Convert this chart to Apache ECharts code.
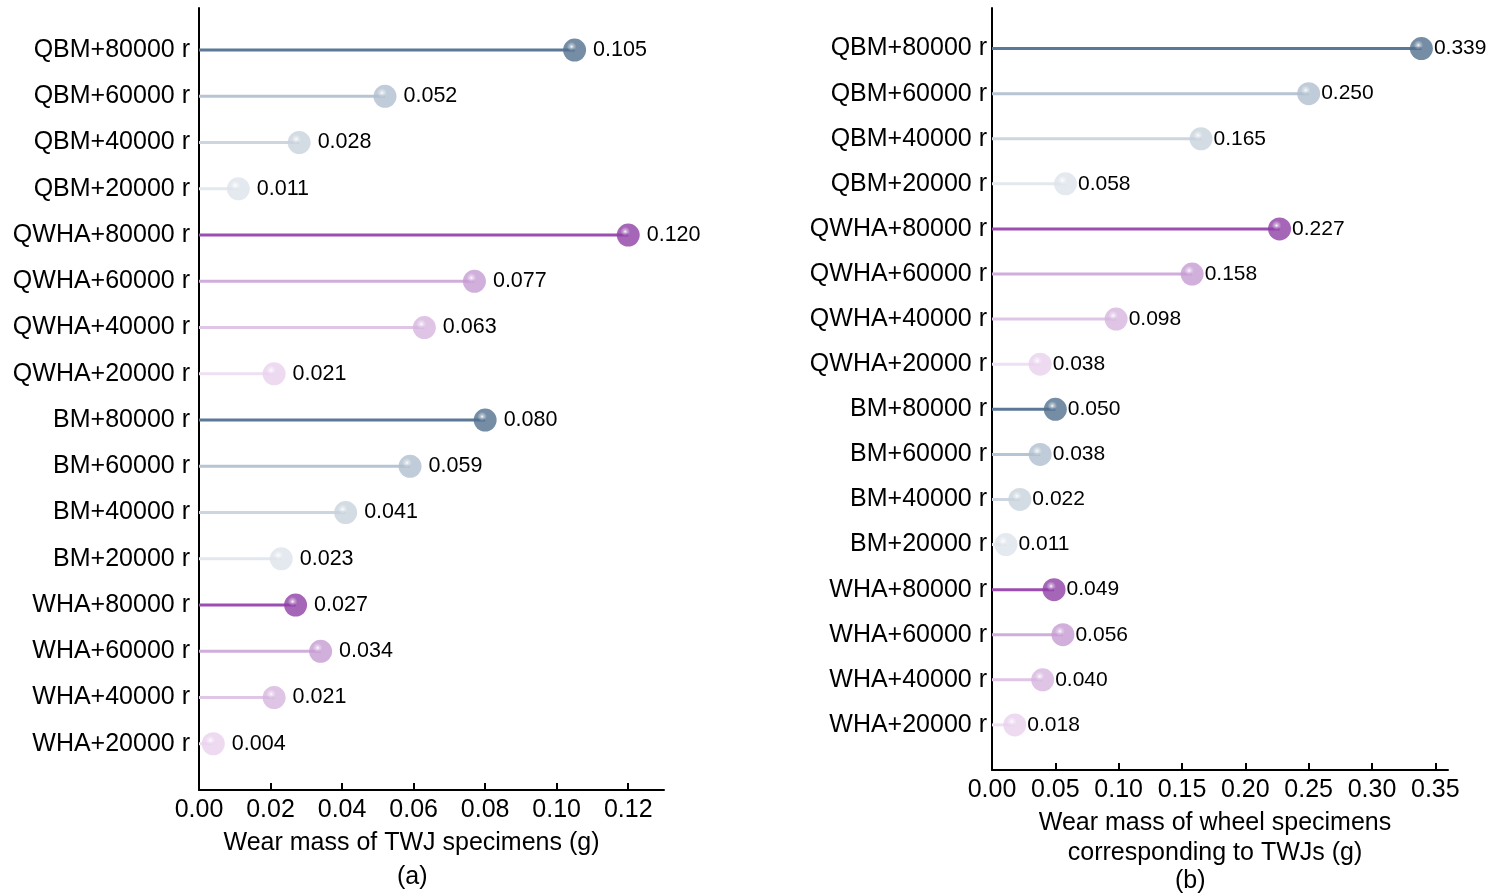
<!DOCTYPE html>
<html>
<head>
<meta charset="utf-8">
<script src="https://cdn.jsdelivr.net/npm/echarts@6/dist/echarts.min.js"></script>
<style>
html,body{margin:0;padding:0;background:#fff;}
#c{width:1489px;height:895px;}
</style>
</head>
<body>
<div id="c"></div>
<script>
const categories = ['QBM+80000 r','QBM+60000 r','QBM+40000 r','QBM+20000 r',
  'QWHA+80000 r','QWHA+60000 r','QWHA+40000 r','QWHA+20000 r',
  'BM+80000 r','BM+60000 r','BM+40000 r','BM+20000 r',
  'WHA+80000 r','WHA+60000 r','WHA+40000 r','WHA+20000 r'];
const twjMass = [0.105,0.052,0.028,0.011,0.120,0.077,0.063,0.021,0.080,0.059,0.041,0.023,0.027,0.034,0.021,0.004];
const wheelMass = [0.339,0.250,0.165,0.058,0.227,0.158,0.098,0.038,0.050,0.038,0.022,0.011,0.049,0.056,0.040,0.018];
const twjTicks = [0,0.02,0.04,0.06,0.08,0.10,0.12];
const wheelTicks = [0,0.05,0.10,0.15,0.20,0.25,0.30,0.35];

const blueBall = ['#52708e','#b0bfcf','#c8d2dd','#dee4eb'];
const purpleBall = ['#8f40a6','#c69bd3','#d6b5df','#e9d1ee'];
const blueLine = ['#5b7897','#b7c4d3','#cdd6e0','#e3e8ee'];
const purpleLine = ['#9c4db1','#d0aedb','#dfc5e6','#efdff2'];

function ballColor(i){ const g = Math.floor(i/4), l = i%4; return (g===1||g===3) ? purpleBall[l] : blueBall[l]; }
function lineColor(i){ const g = Math.floor(i/4), l = i%4; return (g===1||g===3) ? purpleLine[l] : blueLine[l]; }
function grad(c){
  return new echarts.graphic.RadialGradient(0.37, 0.35, 0.65, [
    {offset:0, color:'#ffffff'},
    {offset:0.1, color:echarts.color.lerp(0.5, ['#ffffff', c])},
    {offset:0.32, color:c},
    {offset:1, color:c}
  ]);
}
function stems(vals){ return vals.map((v,i)=>[v,i]); }
function balls(vals){ return vals.map((v,i)=>({value:[v,i], itemStyle:{color:grad(ballColor(i))}})); }
function renderStem(params, api){
  const v = api.value(0), i = api.value(1);
  const p0 = api.coord([0, i]), p1 = api.coord([v, i]);
  return {type:'line', shape:{x1:p0[0], y1:p0[1], x2:p1[0], y2:p1[1]},
    style:{stroke:lineColor(i), lineWidth:3}};
}
const FONT = '"Liberation Sans", Arial, sans-serif';
function yAx(idx, min, margin){
  return {gridIndex:idx, type:'value', inverse:true, min:min, max:16,
    axisLine:{show:true, onZero:false, lineStyle:{color:'#000', width:2}},
    axisTick:{show:false}, splitLine:{show:false},
    axisLabel:{customValues:categories.map((c,i)=>i), formatter:v=>categories[Math.round(v)],
      fontSize:25, color:'#000', fontFamily:FONT, margin:margin}};
}
function xAx(idx, max, ticks, name, gap, pad){
  return {gridIndex:idx, type:'value', min:0, max:max,
    axisLine:{show:true, onZero:false, lineStyle:{color:'#000', width:2}},
    axisTick:{show:true, inside:true, length:7, customValues:ticks, lineStyle:{color:'#000', width:2}},
    splitLine:{show:false},
    axisLabel:{customValues:ticks, formatter:v=>v.toFixed(2), fontSize:25, color:'#000', fontFamily:FONT, margin:8},
    name:name, nameLocation:'middle', nameGap:gap,
    nameTextStyle:{fontSize:25, color:'#000', fontFamily:FONT, lineHeight:30, padding:pad}};
}
const chart = echarts.init(document.getElementById('c'));
chart.setOption({
  backgroundColor:'#fff',
  animation:false,
  grid:[
    {left:199, top:8, width:465, height:782},
    {left:992, top:8, width:456, height:762}
  ],
  xAxis:[
    xAx(0, 0.13, twjTicks, 'Wear mass of TWJ specimens (g)', 38, [0,40,0,0]),
    xAx(1, 0.36, wheelTicks, 'Wear mass of wheel specimens\ncorresponding to TWJs (g)', 31, [0,10,0,0])
  ],
  yAxis:[yAx(0, -0.91, 9), yAx(1, -0.9, 5)],
  graphic:[
    {type:'text', left:397, top:865, style:{text:'(a)', fontSize:25, fontFamily:FONT, fill:'#000'}},
    {type:'text', left:1175, top:869, style:{text:'(b)', fontSize:25, fontFamily:FONT, fill:'#000'}}
  ],
  series:[
    {type:'custom', xAxisIndex:0, yAxisIndex:0, data:stems(twjMass), encode:{x:0,y:1}, renderItem:renderStem, silent:true},
    {type:'scatter', xAxisIndex:0, yAxisIndex:0, data:balls(twjMass), symbolSize:23,
      label:{show:true, position:'right', distance:7, formatter:p=>p.value[0].toFixed(3), fontSize:21.5, color:'#000', opacity:1, fontFamily:FONT}},
    {type:'custom', xAxisIndex:1, yAxisIndex:1, data:stems(wheelMass), encode:{x:0,y:1}, renderItem:renderStem, silent:true},
    {type:'scatter', xAxisIndex:1, yAxisIndex:1, data:balls(wheelMass), symbolSize:23,
      label:{show:true, position:'right', distance:1, formatter:p=>p.value[0].toFixed(3), fontSize:21, color:'#000', opacity:1, fontFamily:FONT}}
  ]
});
</script>
</body>
</html>
